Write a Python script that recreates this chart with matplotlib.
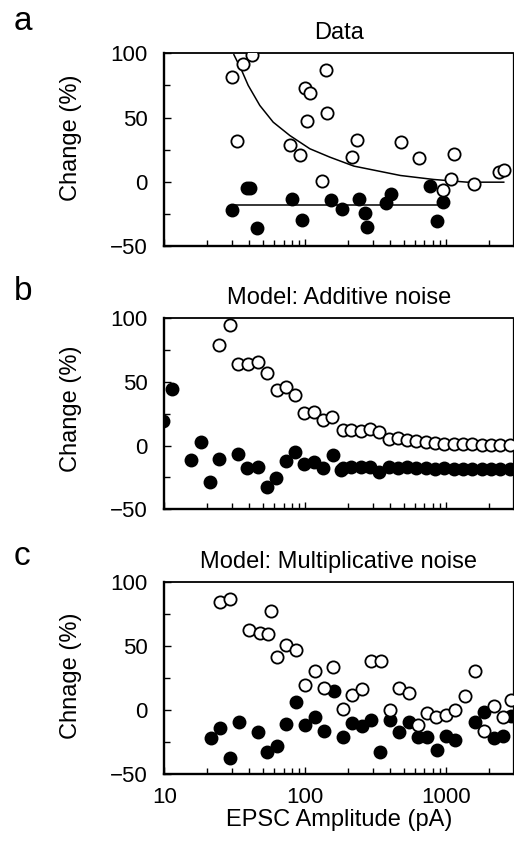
import matplotlib
matplotlib.use('Agg')
import matplotlib.pyplot as plt
from matplotlib.ticker import FixedLocator, NullFormatter

plt.rcParams['font.family'] = ['Liberation Sans', 'DejaVu Sans']

# ---- panel a: data ----
a_open_x = [30.3, 32.5, 35.8, 41.5, 77.6, 91.4, 99.1, 107.6, 103, 139.7, 142.8, 130.3,
            214.8, 233.3, 481, 641, 948, 1086, 1129, 1574, 2355, 2557]
a_open_y = [81.5, 31.7, 91.4, 98.4, 28.8, 20.5, 73.2, 69.0, 47.2, 87.2, 53.7, 1.0,
            19.2, 32.7, 30.9, 18.7, -6.2, 1.8, 21.8, -2.1, 7.5, 9.3]
a_fill_x = [30.3, 38.3, 40.4, 45.1, 80.7, 94, 151, 180.7, 241, 264, 271.6, 372, 404,
            764, 861, 948]
a_fill_y = [-22.3, -4.7, -4.7, -36.1, -13.2, -30.1, -14.5, -21.5, -13.2, -24.1, -35.3,
            -16.6, -9.3, -2.9, -30.6, -15.8]
# fitted curves
a_fit_open_x = [31.1, 35.3, 39.3, 47.5, 59.1, 77.6, 107.6, 149, 221, 473, 815, 1406, 2559]
a_fit_open_y = [98.9, 86.7, 75.0, 59.4, 46.4, 36.0, 25.7, 19.2, 12.2, 4.9, 1.8, -0.3, -0.3]
a_fit_fill_x = [30.3, 948]
a_fit_fill_y = [-18.4, -18.4]

# ---- panel b: additive noise model ----
b_open_x = [24.5, 29.2, 33.2, 39.3, 46.3, 53.1, 62.5, 72.3, 84.3, 98.2, 115.6, 132.5,
            155, 185.4, 212.4, 247.6, 287, 334, 391, 455, 527, 614, 715, 833, 970,
            1130, 1316, 1532, 1785, 2079, 2421, 2820]
b_open_y = [79.2, 95, 64, 64.5, 65.8, 57.4, 43.4, 46.3, 39.7, 25.3, 26.6, 20.5,
            22.4, 12.1, 12.1, 11.8, 13.2, 10.5, 5.5, 6.3, 4.7, 3.4, 2.6, 2.1, 1.6,
            1.6, 1.6, 1.0, 0.8, 0.8, 0.2, 0.2]
b_fill_x = [9.8, 11.4, 15.3, 18.1, 21.1, 24.5, 33.2, 38.7, 45.8, 53.1, 61.8, 72.3,
            84.3, 98.2, 115.6, 134, 156, 178, 185.4, 212.4, 247.6, 287, 334, 391, 455,
            527, 614, 715, 833, 970, 1130, 1316, 1532, 1785, 2079, 2421, 2820]
b_fill_y = [19.2, 44.7, -11.1, 2.6, -28.7, -10.3, -6.3, -17.6, -17.1, -32.6, -25.5,
            -12.4, -5.0, -14.5, -12.9, -17.6, -7.6, -19.0, -17.5, -16.5, -17.0, -16.5,
            -21.0, -17.0, -17.5, -17.0, -17.5, -17.5, -18.0, -17.5, -18.0, -18.0,
            -18.0, -18.0, -18.0, -18.0, -18.0]

# ---- panel c: multiplicative noise model ----
c_open_x = [24.8, 29.4, 39.5, 48.0, 54.2, 56.6, 63.1, 73.1, 85.2, 99.7, 116.2, 134.5,
            156.7, 184.5, 213.8, 251.8, 290, 342, 396, 461, 540, 630, 733, 849, 1000,
            1159, 1365, 1589, 1841, 2168, 2525, 2895]
c_open_y = [84.3, 86.4, 62.4, 60.3, 59.2, 77.2, 41.5, 50.4, 47.2, 19.3, 30.8, 17.2,
            33.7, 1.0, 12.0, 16.7, 38.6, 38.1, 0.3, 17.2, 13.3, -11.5, -2.3, -5.0, -3.7,
            0.3, 11.2, 30.3, -15.9, 2.9, -5.7, 8.1]
c_fill_x = [21.4, 24.8, 29.4, 33.7, 46.0, 53.6, 63.1, 73.1, 85.2, 99.7, 116.2, 135,
            158.5, 184.5, 213.8, 251.8, 293, 340, 396, 461, 540, 630, 733, 859, 1000,
            1159, 1589, 1841, 2168, 2525, 2895]
c_fill_y = [-21.4, -14.1, -37.6, -9.4, -17.2, -32.4, -27.9, -10.7, 6.0, -11.5, -5.0,
            -16.2, 14.6, -20.6, -9.7, -12.0, -7.6, -32.4, -7.6, -17.2, -8.9, -20.6,
            -20.6, -31.0, -19.8, -23.2, -8.9, -1.8, -21.9, -19.8, -4.2]

titles = ['Data', 'Model: Additive noise', 'Model: Multiplicative noise']
ylabels = ['Change (%)', 'Change (%)', 'Chnage (%)']
letters = ['a', 'b', 'c']
xticks = [10, 100, 1000]
xticklabels = ['10', '100', '1000']
yticks = [-50, 0, 50, 100]

fig = plt.figure(figsize=(5.14, 8.42), dpi=100)

rects = [[0.320, 0.7078, 0.679, 0.2289],
         [0.320, 0.3951, 0.679, 0.2268],
         [0.320, 0.0804, 0.679, 0.2287]]
label_y = [0.56, 0.525, 0.51]
letter_pos = [(0.027, 0.964), (0.027, 0.6437), (0.027, 0.329)]

panels = [
    (a_open_x, a_open_y, a_fill_x, a_fill_y),
    (b_open_x, b_open_y, b_fill_x, b_fill_y),
    (c_open_x, c_open_y, c_fill_x, c_fill_y),
]

for i, (ox, oy, fx, fy) in enumerate(panels):
    ax = fig.add_axes(rects[i])
    ax.set_xscale('log')

    if i == 0:
        ax.plot(a_fit_open_x, a_fit_open_y, color='black', lw=1.1, zorder=2)
        ax.plot(a_fit_fill_x, a_fit_fill_y, color='black', lw=1.1, zorder=2)

    ax.plot(fx, fy, 'o', ms=8.8, mfc='black', mec='black', mew=1.2, zorder=3)
    ax.plot(ox, oy, 'o', ms=8.8, mfc='white', mec='black', mew=1.3, zorder=4)

    ax.set_xlim(10, 3000)
    ax.set_ylim(-50, 100)

    ax.xaxis.set_major_locator(FixedLocator(xticks))
    ax.xaxis.set_minor_locator(FixedLocator([20, 30, 40, 50, 60, 70, 80, 90,
                                             200, 300, 400, 500, 600, 700, 800, 900, 2000]))
    ax.xaxis.set_minor_formatter(NullFormatter())
    if i == 2:
        ax.set_xticklabels(xticklabels)
        ax.set_xlabel('EPSC Amplitude (pA)', fontsize=17, labelpad=1)
    else:
        ax.set_xticklabels([])

    ax.set_yticks(yticks)
    ax.set_yticks([-25, 25, 75], minor=True)

    ax.tick_params(which='both', direction='in', top=False, right=False, width=1.0)
    ax.tick_params(which='major', length=5, labelsize=16)
    ax.tick_params(which='minor', length=4)
    ax.tick_params(axis='y', which='major', pad=12)
    ax.tick_params(axis='x', which='major', pad=9)

    for side in ['left', 'bottom']:
        ax.spines[side].set_linewidth(1.7)
    ax.spines['top'].set_linewidth(1.3)
    ax.spines['right'].set_linewidth(0.9)

    ax.set_title(titles[i], fontsize=17, pad=10)
    ax.set_ylabel(ylabels[i], fontsize=17)
    ax.yaxis.set_label_coords(-0.235, label_y[i])

    fig.text(letter_pos[i][0], letter_pos[i][1], letters[i], fontsize=24, va='baseline')

fig.savefig('out.png', dpi=100, facecolor='white')
